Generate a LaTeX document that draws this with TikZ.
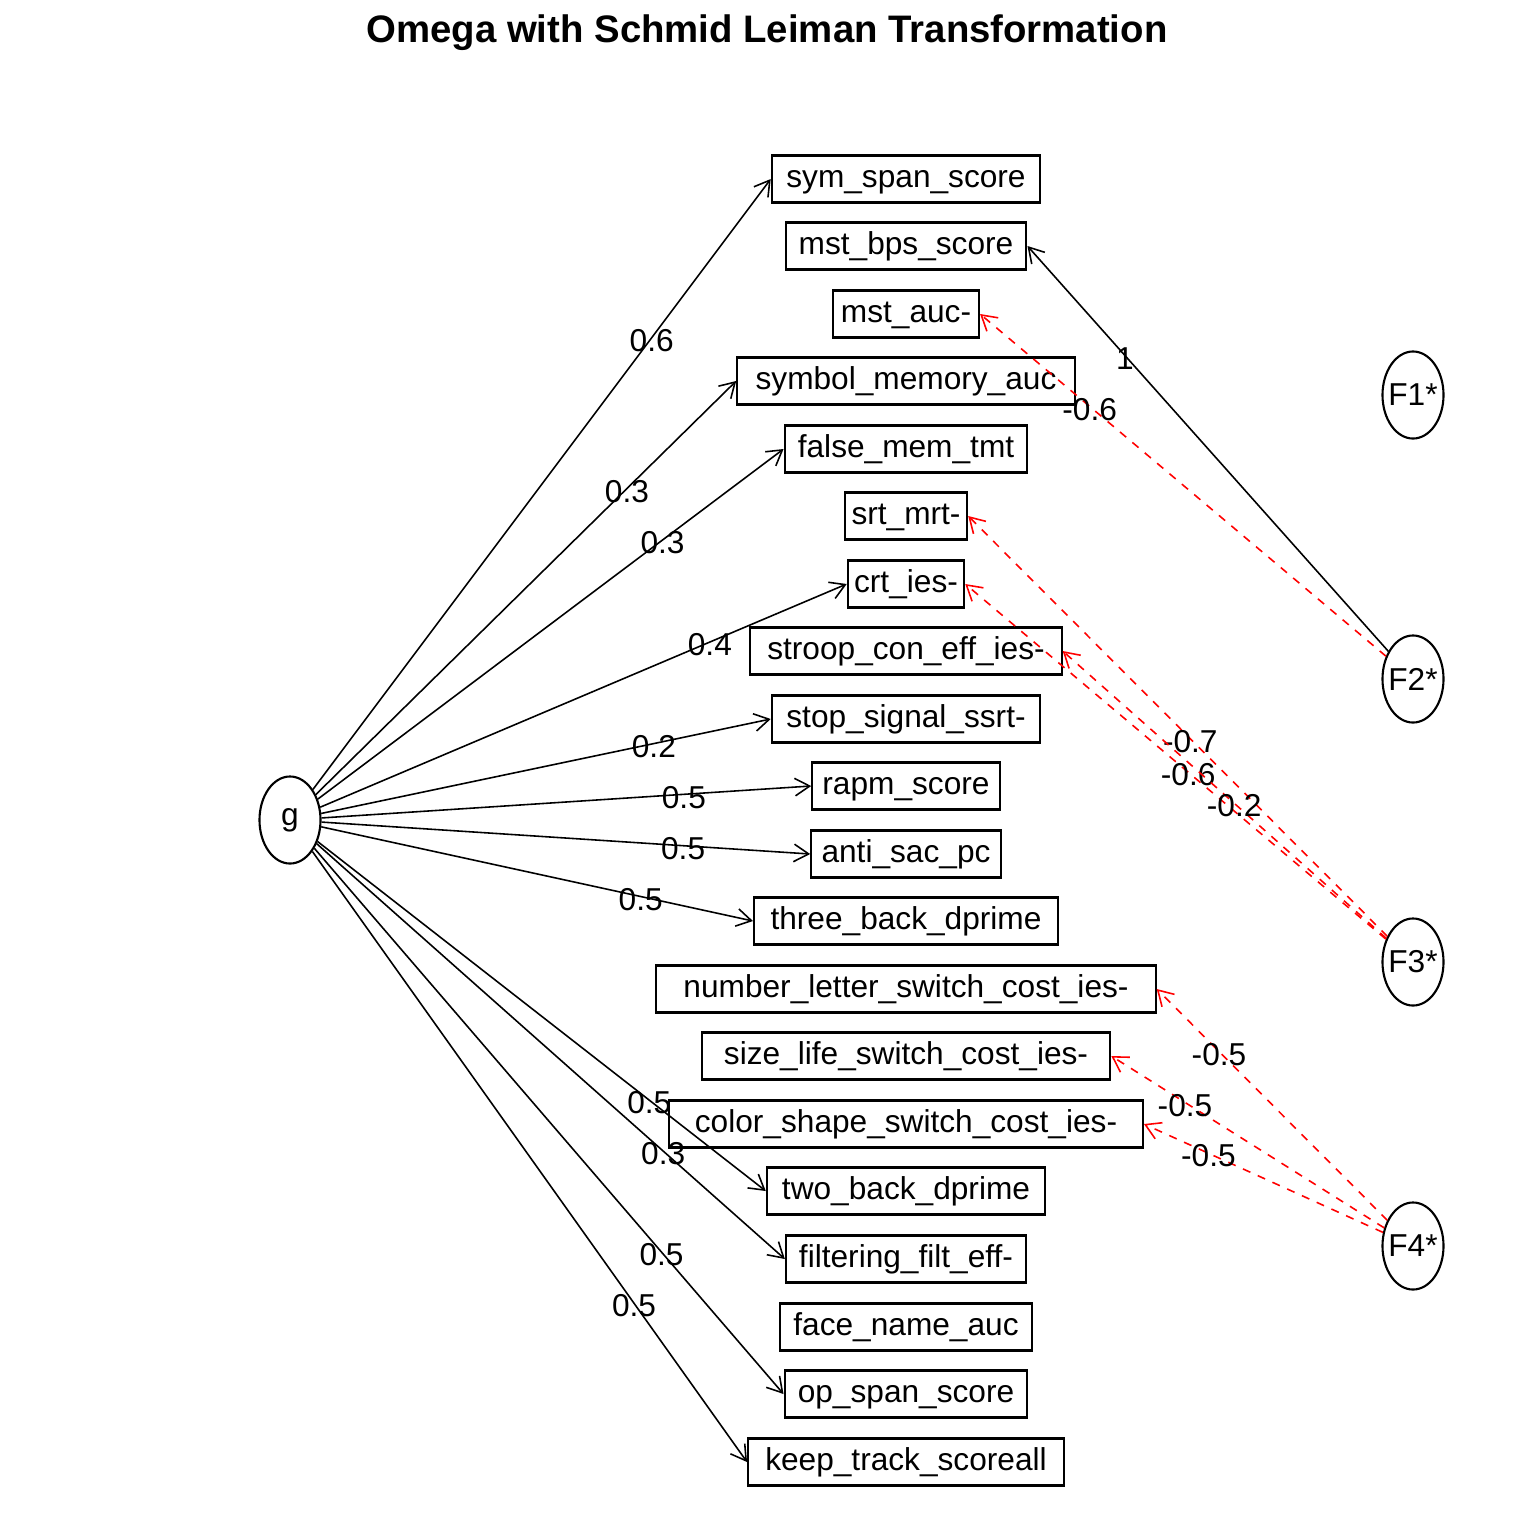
\documentclass[tikz,border=0pt]{standalone}
\usepackage{fontspec}
\setmainfont{Liberation Sans}
\usetikzlibrary{shapes.geometric,arrows.meta}
\newcommand\lblfont{\fontsize{9}{10}\selectfont}
\newcommand\ttlfont{\fontsize{10.9}{12}\selectfont\bfseries}
\newcommand\padbox[1]{\makebox[1.122\width]{#1}}
\tikzset{
  var/.style={draw, line width=0.6pt, rectangle, inner xsep=0pt, inner ysep=0pt,
    text height=7.1pt, text depth=2.0pt, minimum height=0.47cm, font=\lblfont},
  fac/.style={draw, line width=0.6pt, ellipse, minimum width=0.61cm,
    minimum height=0.87cm, inner sep=0pt, font=\lblfont},
  load/.style={line width=0.45pt, -{Straight Barb[length=4.2pt,width=5pt]}},
  neg/.style={load, red, dash pattern=on 2.3pt off 2.3pt},
  val/.style={font=\lblfont, inner sep=0pt, text=black, yshift=-0.8pt},
}
\begin{document}
\begin{tikzpicture}[x=0.01cm, y=-0.01cm]
\useasboundingbox (0,0) rectangle (1536,1536);
\node[font=\ttlfont] (title) at (767,33) {Omega with Schmid Leiman Transformation};

% observed variables
\node[var] (v1)  at (906,179)  {\padbox{sym\_span\_score}};
\node[var] (v2)  at (906,246)  {\padbox{mst\_bps\_score}};
\node[var] (v3)  at (906,314)  {\padbox{mst\_auc-}};
\node[var] (v4)  at (906,381)  {\padbox{symbol\_memory\_auc}};
\node[var] (v5)  at (906,449)  {\padbox{false\_mem\_tmt}};
\node[var] (v6)  at (906,516)  {\padbox{srt\_mrt-}};
\node[var] (v7)  at (906,584)  {\padbox{crt\_ies-}};
\node[var] (v8)  at (906,651)  {\padbox{stroop\_con\_eff\_ies-}};
\node[var] (v9)  at (906,719)  {\padbox{stop\_signal\_ssrt-}};
\node[var] (v10) at (906,786)  {\padbox{rapm\_score}};
\node[var] (v11) at (906,854)  {\padbox{anti\_sac\_pc}};
\node[var] (v12) at (906,921)  {\padbox{three\_back\_dprime}};
\node[var] (v13) at (906,989)  {\padbox{number\_letter\_switch\_cost\_ies-}};
\node[var] (v14) at (906,1056) {\padbox{size\_life\_switch\_cost\_ies-}};
\node[var] (v15) at (906,1124) {\padbox{color\_shape\_switch\_cost\_ies-}};
\node[var] (v16) at (906,1191) {\padbox{two\_back\_dprime}};
\node[var] (v17) at (906,1259) {\padbox{filtering\_filt\_eff-}};
\node[var] (v18) at (906,1327) {\padbox{face\_name\_auc}};
\node[var] (v19) at (906,1394) {\padbox{op\_span\_score}};
\node[var] (v20) at (906,1462) {\padbox{keep\_track\_scoreall}};

% factors
\node[fac] (g)  at (290,820)  {\makebox[0pt]{g}};
\node[fac] (F1) at (1413,395) {\makebox[0pt]{F1*}};
\node[fac] (F2) at (1413,679) {\makebox[0pt]{F2*}};
\node[fac] (F3) at (1413,962) {\makebox[0pt]{F3*}};
\node[fac] (F4) at (1413,1246) {\makebox[0pt]{F4*}};

% general factor loadings
\draw[load] (g) -- (v1.west)  node[val,pos=0.74] {0.6};
\draw[load] (g) -- (v4.west)  node[val,pos=0.74] {0.3};
\draw[load] (g) -- (v5.west)  node[val,pos=0.74] {0.3};
\draw[load] (g) -- (v7.west)  node[val,pos=0.74] {0.4};
\draw[load] (g) -- (v9.west)  node[val,pos=0.74] {0.2};
\draw[load] (g) -- (v10.west) node[val,pos=0.74] {0.5};
\draw[load] (g) -- (v11.west) node[val,pos=0.74] {0.5};
\draw[load] (g) -- (v12.west) node[val,pos=0.74] {0.5};
\draw[load] (g) -- (v16.west) node[val,pos=0.74] {0.5};
\draw[load] (g) -- (v17.west) node[val,pos=0.74] {0.3};
\draw[load] (g) -- (v19.west) node[val,pos=0.74] {0.5};
\draw[load] (g) -- (v20.west) node[val,pos=0.74] {0.5};

% group factor loadings
\draw[load] (F2) -- (v2.east) node[val,pos=0.73] {1};
\draw[neg]  (F2) -- (v3.east) node[val,pos=0.73] {-0.6};

\draw[neg] (F3) -- (v6.east) node[val,pos=0.47] {-0.7};
\draw[neg] (F3) -- (v7.east) node[val,pos=0.47] {-0.6};
\draw[neg] (F3) -- (v8.east) node[val,pos=0.47] {-0.2};

\draw[neg] (F4) -- (v13.east) node[val,pos=0.73] {-0.5};
\draw[neg] (F4) -- (v14.east) node[val,pos=0.73] {-0.5};
\draw[neg] (F4) -- (v15.east) node[val,pos=0.73] {-0.5};
\end{tikzpicture}
\end{document}
